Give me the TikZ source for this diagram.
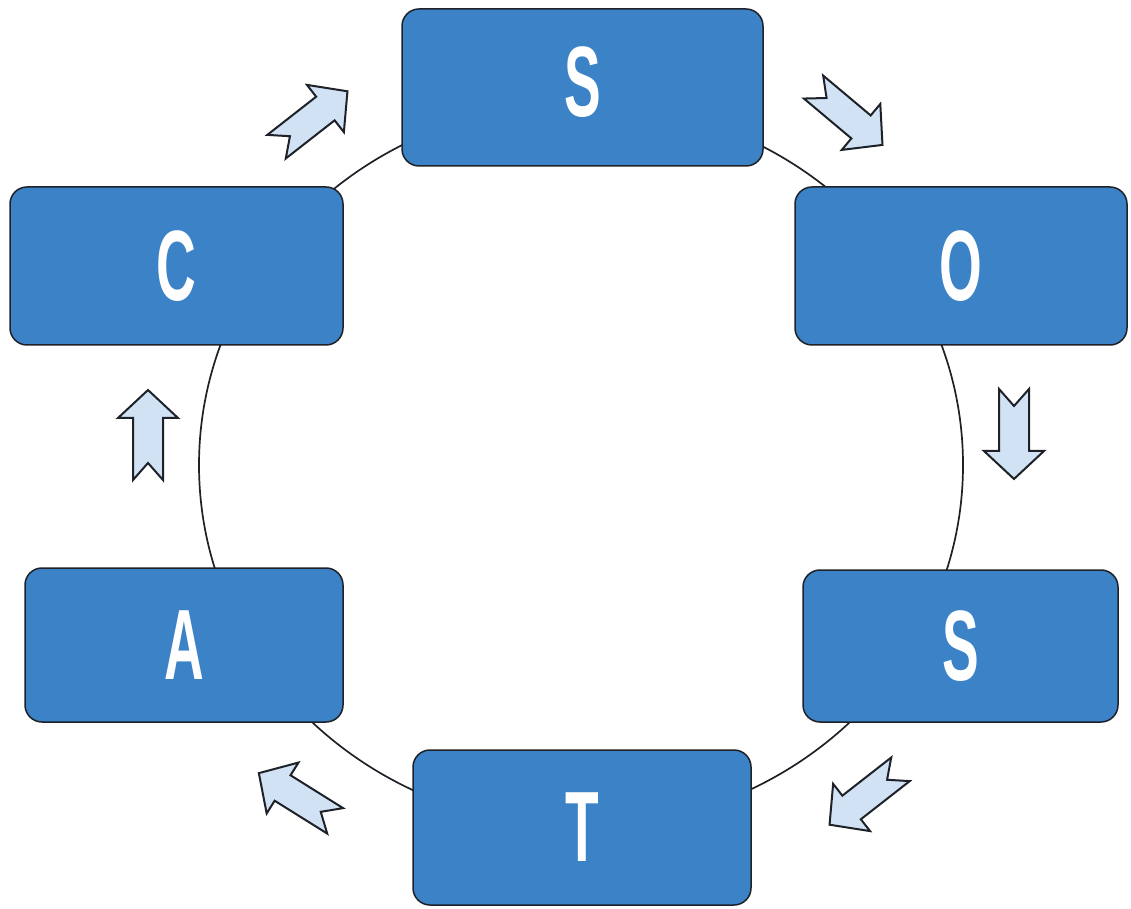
\documentclass[tikz,border=0pt]{standalone}
\usepackage{fontspec}
\setmainfont{Liberation Sans}
\usepackage{graphicx}
\definecolor{boxblue}{RGB}{59,130,198}
\definecolor{arrowfill}{RGB}{208,226,244}
\definecolor{edgeline}{RGB}{30,34,40}
\newcommand{\tallletter}[1]{\scalebox{0.55}[1]{#1}}
\tikzset{
  lettertext/.style={text=white, font=\fontsize{100}{100}\selectfont\bfseries},
  stage/.style={lettertext, draw=edgeline, line width=1.5pt, fill=boxblue,
    rounded corners=17pt, inner sep=0pt},
  ring/.style={draw=edgeline, line width=1.7pt},
  pics/flowarrow/.style={code={
    \draw[draw=edgeline, fill=arrowfill, line width=2pt, line join=miter]
      (-45,15) -- (17,15) -- (17,30) -- (45,0) -- (17,-30) -- (17,-15)
      -- (-45,-15) -- (-28,0) -- cycle;}}
}
\begin{document}
\begin{tikzpicture}[x=1pt,y=1pt]
  \useasboundingbox (0,0) rectangle (1131,908);
  % cycle ring behind the stages
  \draw[ring] (581,443) ellipse [x radius=382, y radius=362];
  % stages
  \node[stage, minimum width=361pt, minimum height=157pt] (s1) at (582.5,820.5) {};
  \node[lettertext] (s1label) at ([yshift=5pt]s1.center) {\tallletter{S}};
  \node[stage, minimum width=332pt, minimum height=158pt] (o)  at (961,642)    {\tallletter{O}};
  \node[stage, minimum width=315pt, minimum height=152pt] (s2) at (960.5,262)  {\tallletter{S}};
  \node[stage, minimum width=338pt, minimum height=155pt] (t)  at (582,80.5)   {\tallletter{T}};
  \node[stage, minimum width=318pt, minimum height=154pt] (a)  at (184,263)    {\tallletter{A}};
  \node[stage, minimum width=333pt, minimum height=158pt] (c)  at (176.5,642)  {\tallletter{C}};
  % direction arrows
  \pic[rotate=38]   at (312,789)  {flowarrow};
  \pic[rotate=-40]  at (848,792)  {flowarrow};
  \pic[rotate=-90]  at (1014,474) {flowarrow};
  \pic[rotate=-142] at (865,111)  {flowarrow};
  \pic[rotate=148]  at (297,111)  {flowarrow};
  \pic[rotate=90]   at (148,473)  {flowarrow};
\end{tikzpicture}
\end{document}
